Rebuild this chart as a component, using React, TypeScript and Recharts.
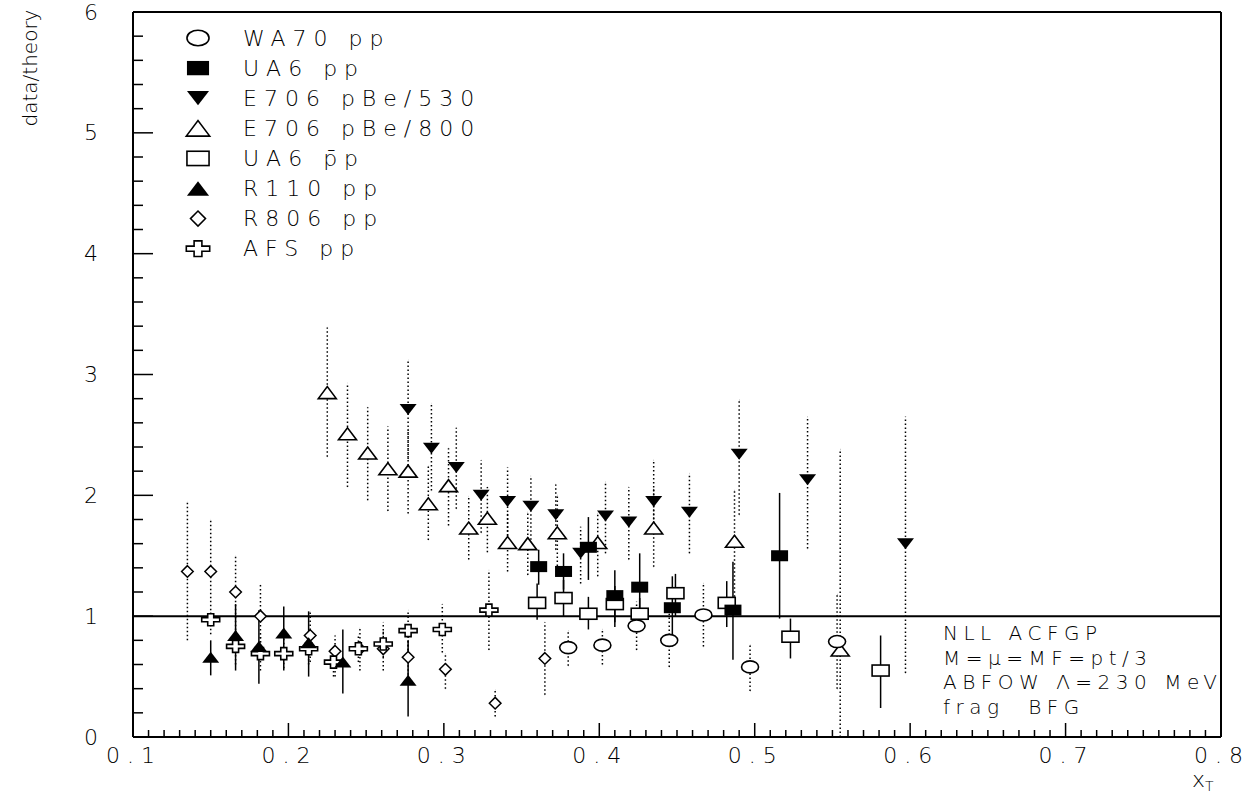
import { ScatterChart, Scatter, XAxis, YAxis, ErrorBar, ReferenceLine } from 'recharts'

// each point: [xT, data/theory, lower end of error bar, upper end of error bar]
type Pt = [number, number, number, number]

const wa70: Pt[] = [
  [0.380, 0.74, 0.59, 0.88],
  [0.402, 0.76, 0.60, 0.89],
  [0.424, 0.92, 0.72, 1.12],
  [0.445, 0.80, 0.58, 1.02],
  [0.467, 1.01, 0.75, 1.27],
  [0.497, 0.58, 0.38, 0.76],
  [0.553, 0.79, 0.40, 1.18],
]

const ua6pp: Pt[] = [
  [0.361, 1.41, 1.26, 1.55],
  [0.377, 1.37, 1.22, 1.52],
  [0.393, 1.57, 1.30, 1.82],
  [0.410, 1.17, 0.91, 1.38],
  [0.426, 1.24, 0.90, 1.52],
  [0.447, 1.07, 0.75, 1.33],
  [0.486, 1.05, 0.64, 1.45],
  [0.516, 1.50, 0.98, 2.02],
]

const e706_530: Pt[] = [
  [0.277, 2.71, 2.30, 3.12],
  [0.292, 2.39, 2.04, 2.76],
  [0.308, 2.23, 1.89, 2.56],
  [0.324, 2.00, 1.69, 2.29],
  [0.341, 1.95, 1.63, 2.23],
  [0.356, 1.91, 1.60, 2.16],
  [0.372, 1.84, 1.55, 2.09],
  [0.388, 1.52, 1.27, 1.74],
  [0.404, 1.83, 1.52, 2.11],
  [0.419, 1.78, 1.47, 2.07],
  [0.435, 1.95, 1.70, 2.29],
  [0.458, 1.86, 1.52, 2.18],
  [0.490, 2.34, 1.84, 2.79],
  [0.534, 2.13, 1.56, 2.65],
  [0.597, 1.60, 0.53, 2.65],
]

const e706_800: Pt[] = [
  [0.225, 2.85, 2.32, 3.39],
  [0.238, 2.51, 2.07, 2.93],
  [0.251, 2.35, 1.96, 2.73],
  [0.264, 2.22, 1.87, 2.57],
  [0.277, 2.20, 1.85, 2.55],
  [0.290, 1.93, 1.63, 2.24],
  [0.303, 2.08, 1.75, 2.39],
  [0.316, 1.73, 1.47, 1.99],
  [0.328, 1.81, 1.53, 2.07],
  [0.341, 1.61, 1.37, 1.85],
  [0.354, 1.60, 1.34, 1.86],
  [0.373, 1.69, 1.35, 2.00],
  [0.399, 1.61, 1.33, 1.85],
  [0.435, 1.73, 1.41, 2.05],
  [0.487, 1.62, 1.16, 2.04],
  [0.555, 0.72, 0.0, 2.38],
]

const ua6ppbar: Pt[] = [
  [0.360, 1.11, 0.97, 1.27],
  [0.377, 1.15, 1.00, 1.30],
  [0.393, 1.02, 0.89, 1.16],
  [0.410, 1.10, 0.95, 1.25],
  [0.426, 1.02, 0.90, 1.15],
  [0.449, 1.19, 1.00, 1.35],
  [0.482, 1.11, 0.91, 1.29],
  [0.523, 0.83, 0.65, 0.98],
  [0.581, 0.55, 0.24, 0.84],
]

const r110: Pt[] = [
  [0.150, 0.66, 0.51, 0.80],
  [0.166, 0.84, 0.55, 1.10],
  [0.181, 0.75, 0.44, 1.05],
  [0.197, 0.86, 0.55, 1.08],
  [0.213, 0.78, 0.50, 1.04],
  [0.235, 0.62, 0.36, 0.89],
  [0.277, 0.47, 0.17, 0.80],
]

const r806: Pt[] = [
  [0.135, 1.37, 0.80, 1.95],
  [0.150, 1.37, 0.95, 1.80],
  [0.166, 1.20, 0.85, 1.50],
  [0.182, 1.00, 0.75, 1.26],
  [0.214, 0.84, 0.62, 1.04],
  [0.230, 0.71, 0.50, 0.84],
  [0.246, 0.73, 0.55, 0.90],
  [0.261, 0.73, 0.55, 0.95],
  [0.277, 0.66, 0.45, 0.80],
  [0.301, 0.56, 0.40, 0.69],
  [0.333, 0.28, 0.17, 0.39],
  [0.365, 0.65, 0.35, 0.95],
]

const afs: Pt[] = [
  [0.150, 0.97, 0.85, 1.05],
  [0.166, 0.75, 0.60, 0.90],
  [0.182, 0.69, 0.55, 0.85],
  [0.197, 0.69, 0.57, 0.82],
  [0.213, 0.73, 0.60, 0.86],
  [0.229, 0.62, 0.50, 0.75],
  [0.245, 0.73, 0.62, 0.85],
  [0.261, 0.77, 0.66, 0.88],
  [0.277, 0.88, 0.72, 1.05],
  [0.299, 0.89, 0.70, 1.10],
  [0.329, 1.05, 0.72, 1.38],
]

const legendLabels = [
  'WA70 pp',
  'UA6 pp',
  'E706 pBe/530',
  'E706 pBe/800',
  'UA6 p\u0304p',
  'R110 pp',
  'R806 pp',
  'AFS pp',
]

const noteLines = ['NLL ACFGP', 'M=\u03bc=MF=pt/3', 'ABFOW \u039b=230 MeV', 'frag  BFG']

const xTicks: number[] = []
for (let i = 10; i <= 80; i++) xTicks.push(i / 100)
const yTicks: number[] = []
for (let i = 0; i <= 30; i++) yTicks.push(i / 5)

const FONT = '"DejaVu Sans", sans-serif'
const INK = '#000'

function rows(pts: Pt[]) {
  return pts.map(([x, y, lo, hi]) => ({ x, y, err: [y - lo, hi - y] }))
}

// ---- markers ----
type M = { cx: number; cy: number; s?: number }

function Ellipse({ cx, cy, s = 1 }: M) {
  return <ellipse cx={cx} cy={cy} rx={8.5 * s} ry={6 * s} fill="#fff" stroke="#000" strokeWidth={1.6} />
}
function BoxFilled({ cx, cy, s = 1 }: M) {
  return <rect x={cx - 8.5 * s} y={cy - 5.5 * s} width={17 * s} height={11 * s} fill="#000" />
}
function BoxOpen({ cx, cy, s = 1 }: M) {
  return <rect x={cx - 8.5 * s} y={cy - 5.5 * s} width={17 * s} height={11 * s} fill="#fff" stroke="#000" strokeWidth={1.6} />
}
function TriDown({ cx, cy, s = 1 }: M) {
  const w = 8.5 * s, h = 5.5 * s
  return <polygon points={`${cx - w},${cy - h} ${cx + w},${cy - h} ${cx},${cy + h}`} fill="#000" />
}
function TriUpOpen({ cx, cy, s = 1 }: M) {
  const w = 9 * s, h = 6 * s
  return <polygon points={`${cx - w},${cy + h} ${cx + w},${cy + h} ${cx},${cy - h}`} fill="#fff" stroke="#000" strokeWidth={1.6} />
}
function TriUp({ cx, cy, s = 1 }: M) {
  const w = 8.5 * s, h = 5.5 * s
  return <polygon points={`${cx - w},${cy + h} ${cx + w},${cy + h} ${cx},${cy - h}`} fill="#000" />
}
function Diamond({ cx, cy, s = 1 }: M) {
  const r = 5.8 * s
  return <polygon points={`${cx},${cy - r} ${cx + r},${cy} ${cx},${cy + r} ${cx - r},${cy}`} fill="#fff" stroke="#000" strokeWidth={1.5} />
}
function Cross({ cx, cy, s = 1 }: M) {
  const w = 9 * s, h = 6 * s, a = 3 * s, b = 2 * s
  const p = [
    [-a, -h], [a, -h], [a, -b], [w, -b], [w, b], [a, b],
    [a, h], [-a, h], [-a, b], [-w, b], [-w, -b], [-a, -b],
  ].map(([dx, dy]) => `${cx + dx},${cy + dy}`).join(' ')
  return <polygon points={p} fill="#fff" stroke="#000" strokeWidth={1.6} />
}

const legendMarkers = [Ellipse, BoxFilled, TriDown, TriUpOpen, BoxOpen, TriUp, Diamond, Cross]

// ---- ticks drawn inward from the axis ----
// eslint-disable-next-line @typescript-eslint/no-explicit-any
function XTick({ x, y, payload }: any) {
  const v = payload.value
  const major = Math.abs(v * 10 - Math.round(v * 10)) < 1e-6
  return (
    <g>
      <line x1={x} x2={x} y1={y} y2={y - (major ? 14 : 7)} stroke="#000" strokeWidth={1.5} />
      {major && (
        <text x={x + 1} y={y + 18} textAnchor="middle" dominantBaseline="central"
          fontFamily={FONT} fontWeight={200} fontSize={22} letterSpacing={7} fill={INK}>
          {v.toFixed(1)}
        </text>
      )}
    </g>
  )
}

// eslint-disable-next-line @typescript-eslint/no-explicit-any
function YTick({ x, y, payload }: any) {
  const v = payload.value
  const major = Math.abs(v - Math.round(v)) < 1e-6
  return (
    <g>
      <line x1={x} x2={x + (major ? 20 : 10)} y1={y} y2={y} stroke="#000" strokeWidth={1.5} />
      {major && (
        <text x={x - 42} y={y} textAnchor="middle" dominantBaseline="central"
          fontFamily={FONT} fontWeight={200} fontSize={22} fill={INK}>
          {Math.round(v)}
        </text>
      )}
    </g>
  )
}

const dotted = { stroke: '#000', strokeWidth: 1.5, strokeDasharray: '1.5 2.5' }
const solid = { stroke: '#000', strokeWidth: 1.5 }

export default function App() {
  return (
    <div style={{ position: 'absolute', left: 0, top: 0, width: 1254, height: 793, background: '#fff' }}>
      <ScatterChart width={1254} height={793} margin={{ top: 11, right: 32, bottom: 55, left: 132 }}>
        <XAxis type="number" dataKey="x" domain={[0.1, 0.8]} ticks={xTicks} interval={0}
          allowDataOverflow height={1} tickSize={0} tickMargin={0} tickLine={false}
          axisLine={{ stroke: '#000', strokeWidth: 2 }} tick={XTick} />
        <XAxis xAxisId="top" orientation="top" type="number" domain={[0.1, 0.8]} height={1}
          tick={false} tickLine={false} axisLine={{ stroke: '#000', strokeWidth: 2 }} />
        <YAxis type="number" dataKey="y" domain={[0, 6]} ticks={yTicks} interval={0}
          allowDataOverflow width={1} tickSize={0} tickMargin={0} tickLine={false}
          axisLine={{ stroke: '#000', strokeWidth: 2 }} tick={YTick} />
        <YAxis yAxisId="right" orientation="right" type="number" domain={[0, 6]} width={1}
          tick={false} tickLine={false} axisLine={{ stroke: '#000', strokeWidth: 2 }} />

        <ReferenceLine y={1} stroke="#000" strokeWidth={2} />

        <Scatter data={rows(e706_800)} isAnimationActive={false} shape={(p: any) => <TriUpOpen cx={p.cx} cy={p.cy} />}>
          <ErrorBar dataKey="err" direction="y" width={0} {...dotted} />
        </Scatter>
        <Scatter data={rows(e706_530)} isAnimationActive={false} shape={(p: any) => <TriDown cx={p.cx} cy={p.cy} />}>
          <ErrorBar dataKey="err" direction="y" width={0} {...dotted} />
        </Scatter>
        <Scatter data={rows(ua6ppbar)} isAnimationActive={false} shape={(p: any) => <BoxOpen cx={p.cx} cy={p.cy} />}>
          <ErrorBar dataKey="err" direction="y" width={0} {...solid} />
        </Scatter>
        <Scatter data={rows(ua6pp)} isAnimationActive={false} shape={(p: any) => <BoxFilled cx={p.cx} cy={p.cy} />}>
          <ErrorBar dataKey="err" direction="y" width={0} {...solid} />
        </Scatter>
        <Scatter data={rows(wa70)} isAnimationActive={false} shape={(p: any) => <Ellipse cx={p.cx} cy={p.cy} />}>
          <ErrorBar dataKey="err" direction="y" width={0} {...dotted} />
        </Scatter>
        <Scatter data={rows(r806)} isAnimationActive={false} shape={(p: any) => <Diamond cx={p.cx} cy={p.cy} />}>
          <ErrorBar dataKey="err" direction="y" width={0} {...dotted} />
        </Scatter>
        <Scatter data={rows(afs)} isAnimationActive={false} shape={(p: any) => <Cross cx={p.cx} cy={p.cy} />}>
          <ErrorBar dataKey="err" direction="y" width={0} {...dotted} />
        </Scatter>
        <Scatter data={rows(r110)} isAnimationActive={false} shape={(p: any) => <TriUp cx={p.cx} cy={p.cy} />}>
          <ErrorBar dataKey="err" direction="y" width={0} {...solid} />
        </Scatter>
      </ScatterChart>

      {/* legend, axis titles and the theory note */}
      <svg width={1254} height={793} style={{ position: 'absolute', left: 0, top: 0, pointerEvents: 'none' }}>
        <text transform="translate(30,68) rotate(-90)" textAnchor="middle" dominantBaseline="central"
          fontFamily={FONT} fontWeight={200} fontSize={20} fill={INK}>
          data/theory
        </text>

        {legendLabels.map((label, i) => {
          const Mk = legendMarkers[i]
          const cy = 38 + i * 30.1
          return (
            <g key={label}>
              <Mk cx={198} cy={cy} s={1.3} />
              <text x={243} y={cy} dominantBaseline="central" fontFamily={FONT} fontWeight={200}
                fontSize={22} letterSpacing={7} fill={INK}>
                {label}
              </text>
            </g>
          )
        })}

        {noteLines.map((line, i) => (
          <text key={line} x={943} y={633 + i * 24.7} dominantBaseline="central" fontFamily={FONT}
            fontWeight={200} fontSize={20} letterSpacing={5.5} fill={INK} style={{ whiteSpace: 'pre' }}>
            {line}
          </text>
        ))}

        <text x={1192} y={787} fontFamily={FONT} fontWeight={200} fontSize={22} fill={INK}>
          x<tspan fontSize={14} dy={4}>T</tspan>
        </text>
      </svg>
    </div>
  )
}
